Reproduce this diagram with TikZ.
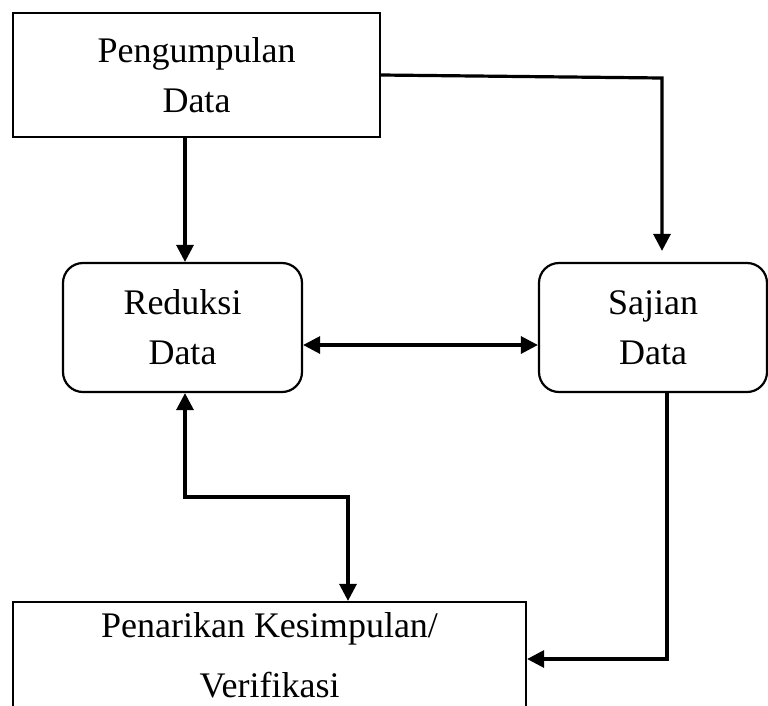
\documentclass[tikz,border=0pt]{standalone}
\usepackage{fontspec}
\setmainfont{Liberation Serif}
\usetikzlibrary{arrows.meta,calc}
\begin{document}
\begin{tikzpicture}[x=1pt,y=-1pt,
  box/.style={draw,line width=2.2pt,inner sep=0pt,align=center,font=\fontsize{36}{50}\selectfont},
  rbox/.style={box,rounded corners=20pt},
  tip/.tip={Triangle[length=17pt,width=17pt]},
  conn/.style={line width=3.2pt,-tip},
  dconn/.style={line width=3.2pt,tip-tip}]
\useasboundingbox (0,0) rectangle (768,705);
\fill[white] (0,0) rectangle (768,705);
\node[box,minimum width=367pt,minimum height=124pt] (top) at (196.5,75) {Pengumpulan\\Data};
\node[rbox,minimum width=239pt,minimum height=129pt] (red) at (182.5,327.5) {Reduksi\\Data};
\node[rbox,minimum width=228pt,minimum height=129pt] (saj) at (653,327.5) {Sajian\\Data};
\node[box,minimum width=513pt,minimum height=107pt,font=\fontsize{36}{60}\selectfont] (bot) at (269.5,655.5) {Penarikan Kesimpulan/\\Verifikasi};
\coordinate (c1) at (662,78);
\coordinate (x1) at (185,0);
\coordinate (y1) at (0,345);
\coordinate (c2) at (185,497);
\coordinate (c3) at (348,497);
\coordinate (c4) at (667,659);
\draw[conn,shorten >=11pt] (top.east) -- (c1) -- (c1 |- saj.north);
\draw[conn] (x1 |- top.south) -- (x1 |- red.north);
\draw[dconn] (y1 -| red.east) -- (y1 -| saj.west);
\draw[dconn] (x1 |- red.south) -- (c2) -- (c3) -- (c3 |- bot.north);
\draw[conn] (c4 |- saj.south) -- (c4) -- (c4 -| bot.east);
\end{tikzpicture}
\end{document}
